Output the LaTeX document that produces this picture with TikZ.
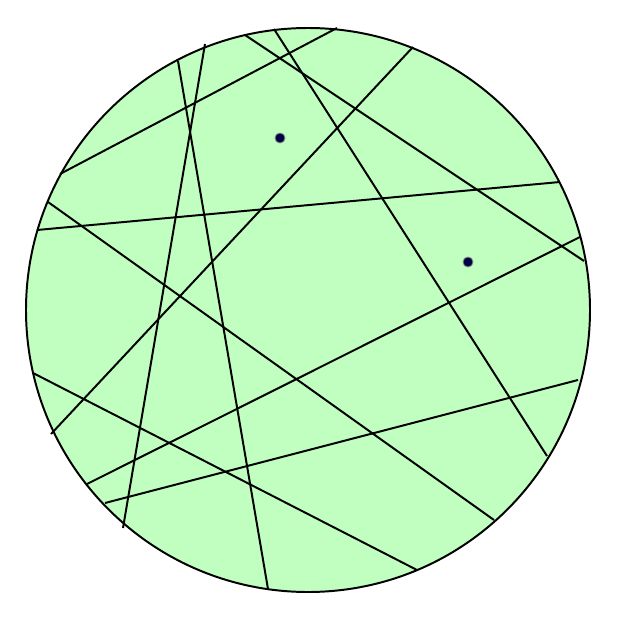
\documentclass[tikz,border=0pt]{standalone}
\usepackage{tikz}
\definecolor{discgreen}{RGB}{192,255,192}
\definecolor{dotblue}{RGB}{0,0,70}
\begin{document}
\begin{tikzpicture}[x=0.025cm, y=-0.025cm, line width=1.4pt]
  \useasboundingbox (0,0) rectangle (619,618);
  \filldraw[fill=discgreen] (308,310) circle (282);
  \draw (178,61) -- (268,589);
  \draw (205,44) -- (123,528);
  \draw (60,174) -- (337,28);
  \draw (245,35) -- (584,261);
  \draw (274,29) -- (547,456);
  \draw (413,47) -- (51,434);
  \draw (37,230) -- (560,182);
  \draw (48,202) -- (494,520);
  \draw (580,237) -- (87,484);
  \draw (578,380) -- (105,503);
  \draw (33,373) -- (417,570);
  \filldraw[fill=dotblue, draw=gray, line width=0.6pt] (280,138) circle (5);
  \filldraw[fill=dotblue, draw=gray, line width=0.6pt] (468,262) circle (5);
\end{tikzpicture}
\end{document}
